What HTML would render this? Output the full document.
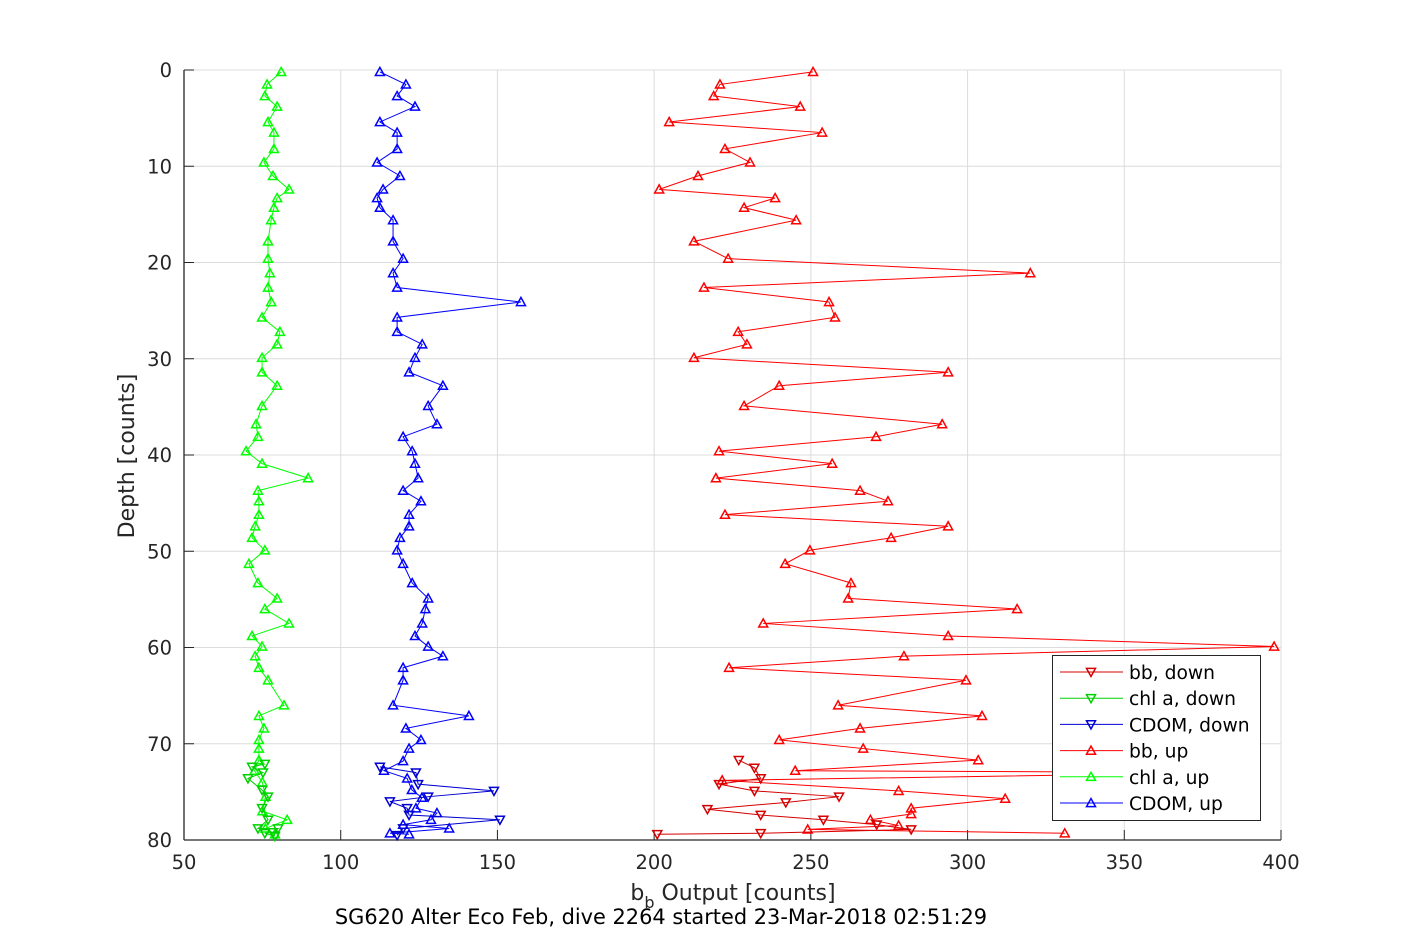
<!DOCTYPE html>
<html><head><meta charset="utf-8"><style>
body{margin:0;background:#fff;}
svg{display:block;font-family:"DejaVu Sans","Liberation Sans",sans-serif;}
</style></head><body>
<svg id="chart" width="1417" height="945" viewBox="0 0 1417 945" xmlns="http://www.w3.org/2000/svg">
<rect width="1417" height="945" fill="#fff"/>
<g id="grid"></g>
<g id="axes"></g>
<g id="series"></g>
<g id="legend"></g>
</svg>
<script>
const xTicks=[50,100,150,200,250,300,350,400];
const yTicks=[0,10,20,30,40,50,60,70,80];
const bbUpDepth=[0.2,1.5,2.7,3.8,5.4,6.5,8.2,9.6,11,12.4,13.3,14.3,15.6,17.8,19.6,21.1,22.6,24.1,25.7,27.2,28.5,29.9,31.4,32.8,34.9,36.8,38.1,39.6,40.9,42.4,43.7,44.8,46.2,47.4,48.6,49.9,51.3,53.3,54.9,56,57.5,58.8,59.9,60.9,62.1,63.4,66,67.1,68.4,69.6,70.5,71.7,72.8,73.0,73.8,74.9,75.7,76.7,77.3,77.9,78.5,78.9,79.3];
const bbUp=[250.7,221,219,246.6,204.8,253.6,222.6,230.6,214,201.6,238.6,228.7,245.3,212.7,223.6,320,215.9,255.8,257.7,226.8,229.6,212.7,293.8,239.9,228.7,291.9,270.8,220.7,256.8,219.7,265.7,274.6,222.6,293.8,275.6,249.7,241.8,262.8,261.9,315.8,234.8,293.8,397.8,279.7,223.9,299.5,258.7,304.6,265.7,239.9,266.7,303.4,245,385,221.7,278,312,282,282,269,278,249,331];
const bbDownDepth=[71.7,72.5,73.6,74.2,74.9,75.5,76.1,76.8,77.4,77.9,78.4,78.9,79.3,79.4];
const bbDown=[227,232,234,220.7,232,259,242,217,234,254,271,282,234,201];
const chlUpDepth=[0.2,1.5,2.7,3.8,5.4,6.5,8.2,9.6,11,12.4,13.3,14.3,15.6,17.8,19.6,21.1,22.6,24.1,25.7,27.2,28.5,29.9,31.4,32.8,34.9,36.8,38.1,39.6,40.9,42.4,43.7,44.8,46.2,47.4,48.6,49.9,51.3,53.3,54.9,56,57.5,58.8,59.9,60.9,62.1,63.4,66,67.1,68.4,69.6,70.5,71.7,72.8,74,75.5,77,77.9,78.8,79.4];
const chlUp=[81,76.5,75.8,79.7,76.8,78.7,78.7,75.5,78.4,83.5,79.7,78.7,77.8,76.8,76.8,77.4,76.8,77.8,74.9,80.6,79.7,74.9,74.9,79.7,74.9,73,73.6,69.8,74.9,89.6,73.6,73.9,73.9,72.7,71.7,75.8,70.7,73.6,79.7,75.8,83.5,71.7,74.9,72.7,73.9,76.8,81.9,73.9,75.5,73.9,73.9,73.9,72.5,75,76,75,82.9,76,79];
const chlDownDepth=[72.1,72.4,73,73.6,74.8,75.5,76.7,77.9,78.8,78.8,79.2,79.3,79.6];
const chlDown=[75.8,71.7,75.2,70.4,74.9,76.8,74.9,76.8,73.6,80,78.4,75.8,79];
const cdomUpDepth=[0.2,1.5,2.7,3.8,5.4,6.5,8.2,9.6,11,12.4,13.3,14.3,15.6,17.8,19.6,21.1,22.6,24.1,25.7,27.2,28.5,29.9,31.4,32.8,34.9,36.8,38.1,39.6,40.9,42.4,43.7,44.8,46.2,47.4,48.6,49.9,51.3,53.3,54.9,56,57.5,58.8,59.9,60.9,62.1,63.4,66,67.1,68.4,69.6,70.5,71.8,72.8,73.6,74.8,75.6,76.7,77.2,77.9,78.4,78.8,79.3,79.4];
const cdomUp=[112.5,120.8,118,123.7,112.5,118,118,111.6,118.9,113.5,111.6,112.5,116.7,116.7,119.9,116.7,118,157.5,118,118,126,123.7,121.8,132.6,127.9,130.7,119.9,122.8,123.7,124.7,119.9,125.6,121.8,121.8,118.9,118,119.9,122.8,127.9,127,126,123.7,127.9,132.6,119.9,119.9,116.7,140.9,120.8,125.6,121.8,119.9,113.8,121.2,122.7,125.9,124,130.7,128.8,119.9,134.6,115.7,121.8];
const cdomDownDepth=[72.4,73,74.2,74.9,75.5,76,76.7,77.4,77.9,78.8,79.5];
const cdomDown=[112.5,124,124.7,148.9,127.9,115.7,121.2,121.8,150.8,119.9,118];

const NS="http://www.w3.org/2000/svg";
const L=184,R=1281,T=70,B=840;
function sx(v){return L+(v-50)/(400-50)*(R-L);}
function sy(d){return T+(d-0)/(80-0)*(B-T);}
function mk(tag,attrs,parent){const e=document.createElementNS(NS,tag);for(const k in attrs)e.setAttribute(k,attrs[k]);parent.appendChild(e);return e;}
const grid=document.getElementById('grid'),axes=document.getElementById('axes'),ser=document.getElementById('series'),leg=document.getElementById('legend');
xTicks.forEach(t=>{
  const g=mk('line',{x1:sx(t),x2:sx(t),y1:T,y2:B,stroke:'#dcdcdc','stroke-width':1},grid);
  
  
  const tk=mk('line',{x1:sx(t),x2:sx(t),y1:B,y2:B-10,stroke:'#262626','stroke-width':1},axes);
  
  
  const tx=mk('text',{x:sx(t),y:B+29,'text-anchor':'middle','font-size':19.5,fill:'#262626'},axes);
  tx.textContent=t;
  
  
});
yTicks.forEach(t=>{
  const g=mk('line',{x1:L,x2:R,y1:sy(t),y2:sy(t),stroke:'#dcdcdc','stroke-width':1},grid);
  
  
  const tk=mk('line',{x1:L,x2:L+10,y1:sy(t),y2:sy(t),stroke:'#262626','stroke-width':1},axes);
  
  
  const tx=mk('text',{x:L-12,y:sy(t)+7,'text-anchor':'end','font-size':19.5,fill:'#262626'},axes);
  tx.textContent=t;
  
  
});
const xa=mk('line',{x1:L,x2:R,y1:B,y2:B,stroke:'#262626','stroke-width':1.3},axes);


const ya=mk('line',{x1:L,x2:L,y1:T,y2:B,stroke:'#262626','stroke-width':1.3},axes);


const xl=mk('text',{x:733,y:900,'text-anchor':'middle','font-size':22,fill:'#262626'},axes);
xl.innerHTML='b<tspan dy="8" font-size="16">b</tspan><tspan dy="-8"> Output [counts]</tspan>';


const ttl=mk('text',{x:661,y:924,'text-anchor':'middle','font-size':20.9,fill:'#000'},axes);
ttl.textContent='SG620 Alter Eco Feb, dive 2264 started 23-Mar-2018 02:51:29';


const yl=mk('text',{x:0,y:0,'text-anchor':'middle','font-size':22,fill:'#262626',transform:'translate(134,456) rotate(-90)'},axes);
yl.textContent='Depth [counts]';



function tri(x,y,up){const s=4.5;return up?`${x-s},${y+s*0.8} ${x+s},${y+s*0.8} ${x},${y-s}`:`${x-s},${y-s*0.8} ${x+s},${y-s*0.8} ${x},${y+s}`;}
function drawSeries(vals,deps,color,up,name){
  const g=mk('g',{},ser);
  
  
  const pts=vals.map((v,i)=>sx(v)+','+sy(deps[i])).join(' ');
  const pl=mk('polyline',{points:pts,fill:'none',stroke:color,'stroke-width':1},g);
  
  
  vals.forEach((v,i)=>{
    const p=mk('polygon',{points:tri(sx(v),sy(deps[i]),up),fill:'none',stroke:color,'stroke-width':1.5},g);
    
    
  });
}
drawSeries(bbUp,bbUpDepth,'#ff0000',true,'bb-up-series');
drawSeries(chlUp,chlUpDepth,'#00ff00',true,'chl-up-series');
drawSeries(cdomUp,cdomUpDepth,'#0000ff',true,'cdom-up-series');
drawSeries(bbDown,bbDownDepth,'#d40000',false,'bb-down-series');
drawSeries(chlDown,chlDownDepth,'#00d000',false,'chl-down-series');
drawSeries(cdomDown,cdomDownDepth,'#0000d0',false,'cdom-down-series');

const lb=mk('rect',{x:1052.5,y:655.5,width:208,height:165,fill:'#fff',stroke:'#262626','stroke-width':1},leg);


const items=[['bb, down','#d40000',false],['chl a, down','#00d000',false],['CDOM, down','#0000d0',false],['bb, up','#ff0000',true],['chl a, up','#00ff00',true],['CDOM, up','#0000ff',true]];
items.forEach((it,i)=>{
  const y=672+i*26.2;
  const g=mk('g',{},leg);
  
  
  mk('line',{x1:1060,x2:1123,y1:y,y2:y,stroke:it[1],'stroke-width':1},g);
  mk('polygon',{points:tri(1091,y,it[2]),fill:'none',stroke:it[1],'stroke-width':1.5},g);
  const t=mk('text',{x:1129,y:y+7,'font-size':18.7,fill:'#000'},g);
  t.textContent=it[0];
});
</script>
</body></html>
